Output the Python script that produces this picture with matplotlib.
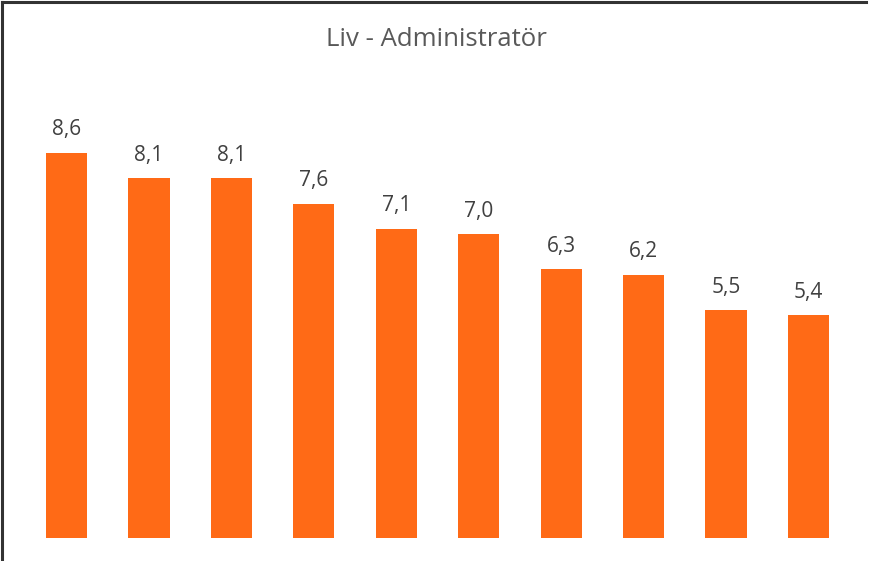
import matplotlib.pyplot as plt
from matplotlib.lines import Line2D

# Values
categories = [str(i) for i in range(1, 11)]
values = [8.6, 8.1, 8.1, 7.6, 7.1, 7.0, 6.3, 6.2, 5.5, 5.4]
labels = [f"{v:.1f}".replace(".", ",") for v in values]
title = "Liv - Administratör"

plt.rcParams['font.family'] = ['Open Sans', 'DejaVu Sans']

fig = plt.figure(figsize=(8.73, 5.61), dpi=100)
ax = fig.add_axes([0.029, 0.041, 0.9443, 0.8128])

x = range(len(categories))
bars = ax.bar(x, values, width=0.5, bottom=0, color='#FF6A16')
ax.set_xlim(-0.5, len(categories) - 0.5)
ax.set_ylim(1, 10)

for b, lab in zip(bars, labels):
    ax.annotate(lab, (b.get_x() + b.get_width() / 2, b.get_height()),
                xytext=(0, 9), textcoords='offset points',
                ha='center', va='bottom', fontsize=15, color='#404040')

ax.axis('off')

fig.text(0.5, 1 - 40 / 561, title, ha='center', va='center',
         fontsize=18.5, color='#595959')

# chart border (only top and left visible in the reference)
fig.add_artist(Line2D([1.5 / 873, 866 / 873], [1 - 1.5 / 561, 1 - 1.5 / 561],
                      transform=fig.transFigure, color='#333333', lw=2.2))
fig.add_artist(Line2D([1.5 / 873, 1.5 / 873], [0, 1 - 1.5 / 561],
                      transform=fig.transFigure, color='#333333', lw=2.2))

fig.savefig('out.png', dpi=100)
